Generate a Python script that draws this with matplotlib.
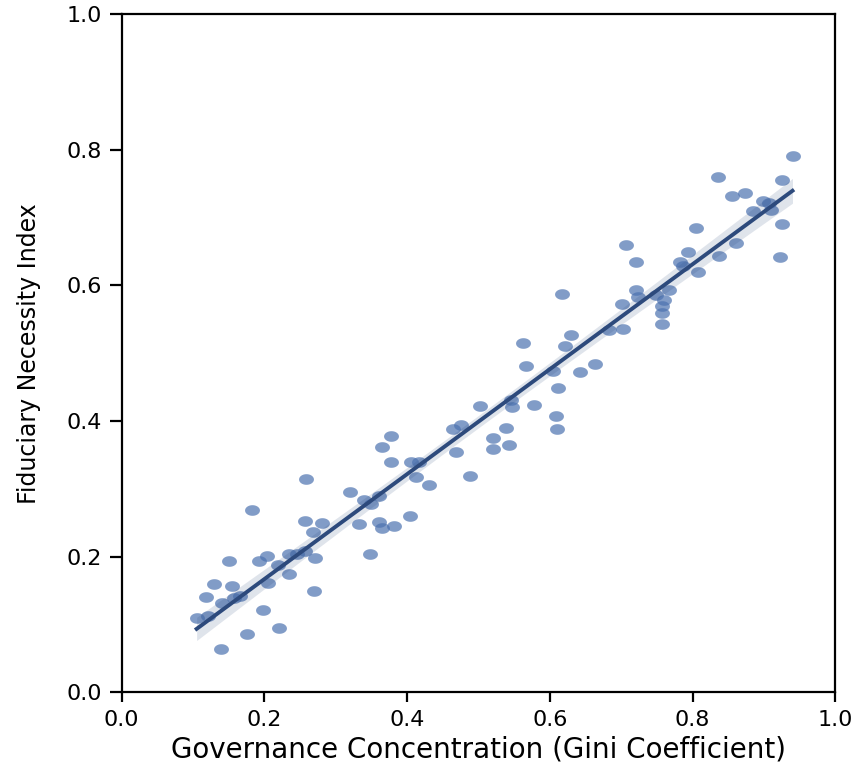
import numpy as np
import matplotlib
matplotlib.use("Agg")
import matplotlib.pyplot as plt
from matplotlib.path import Path

# ---- data ----
gini = [0.105, 0.121, 0.118, 0.130, 0.140, 0.139, 0.150, 0.155, 0.157, 0.166,
        0.183, 0.176, 0.192, 0.203, 0.198, 0.205, 0.219, 0.221, 0.234, 0.234,
        0.246, 0.257, 0.258, 0.257, 0.268, 0.281, 0.271, 0.270, 0.320, 0.332,
        0.340, 0.350, 0.360, 0.360, 0.365, 0.382, 0.404, 0.348, 0.365, 0.377,
        0.377, 0.405, 0.417, 0.412, 0.431, 0.464, 0.475, 0.468, 0.488, 0.502,
        0.520, 0.521, 0.538, 0.543, 0.546, 0.547, 0.562, 0.566, 0.578, 0.609,
        0.610, 0.611, 0.605, 0.617, 0.621, 0.630, 0.642, 0.663, 0.683, 0.701,
        0.703, 0.720, 0.723, 0.707, 0.721, 0.749, 0.757, 0.757, 0.760, 0.757,
        0.767, 0.782, 0.787, 0.794, 0.805, 0.808, 0.835, 0.837, 0.855, 0.861,
        0.874, 0.884, 0.898, 0.907, 0.910, 0.925, 0.925, 0.922, 0.940]
fiduciary = [0.109, 0.112, 0.140, 0.160, 0.131, 0.064, 0.193, 0.156, 0.139, 0.142,
             0.269, 0.086, 0.194, 0.201, 0.122, 0.161, 0.188, 0.095, 0.204, 0.174,
             0.204, 0.209, 0.315, 0.253, 0.236, 0.250, 0.198, 0.149, 0.295, 0.248,
             0.283, 0.278, 0.289, 0.251, 0.242, 0.245, 0.260, 0.204, 0.362, 0.378,
             0.340, 0.339, 0.339, 0.317, 0.305, 0.388, 0.394, 0.354, 0.319, 0.422,
             0.375, 0.358, 0.389, 0.364, 0.431, 0.420, 0.515, 0.481, 0.424, 0.408,
             0.388, 0.449, 0.474, 0.587, 0.511, 0.527, 0.472, 0.484, 0.534, 0.573,
             0.536, 0.593, 0.583, 0.659, 0.634, 0.585, 0.570, 0.559, 0.578, 0.543,
             0.593, 0.635, 0.629, 0.649, 0.684, 0.619, 0.760, 0.643, 0.731, 0.663,
             0.736, 0.710, 0.724, 0.722, 0.711, 0.755, 0.690, 0.641, 0.790]
xticks = [0.0, 0.2, 0.4, 0.6, 0.8, 1.0]
yticks = [0.0, 0.2, 0.4, 0.6, 0.8, 1.0]
xlabel = "Governance Concentration (Gini Coefficient)"
ylabel = "Fiduciary Necessity Index"

x = np.asarray(gini)
y = np.asarray(fiduciary)

# ---- linear fit with analytic 95% confidence band ----
slope, intercept = np.polyfit(x, y, 1)
n = len(x)
xg = np.linspace(x.min(), x.max(), 200)
yg = intercept + slope * xg
resid = y - (intercept + slope * x)
s = np.sqrt(np.sum(resid ** 2) / (n - 2))
sxx = np.sum((x - x.mean()) ** 2)
se = s * np.sqrt(1.0 / n + (xg - x.mean()) ** 2 / sxx)
band = 1.985 * se

# ---- figure ----
fig = plt.figure(figsize=(8.57, 7.67), dpi=100)
ax = fig.add_axes([0.1420, 0.0974, 0.8327, 0.8844])

# elliptical marker (wider than tall) like the reference
t = np.linspace(0, 2 * np.pi, 60)
ell = Path(np.column_stack([1.4 * np.cos(t), np.sin(t)]), closed=True)

point_color = "#4C72B0"
line_color = "#2D4A7C"

ax.scatter(x, y, s=115, marker=ell, color=point_color, alpha=0.7,
           linewidths=0, zorder=2)
ax.fill_between(xg, yg - band, yg + band, color=line_color, alpha=0.15,
                linewidth=0, zorder=3)
ax.plot(xg, yg, color=line_color, linewidth=2.8, zorder=4)

ax.set_xlim(0, 1)
ax.set_ylim(0, 1)
ax.set_xticks(xticks)
ax.set_yticks(yticks)
ax.set_xticklabels([f"{v:.1f}" for v in xticks])
ax.set_yticklabels([f"{v:.1f}" for v in yticks])

for sp in ax.spines.values():
    sp.set_linewidth(1.6)
    sp.set_color("black")

ax.tick_params(axis="x", direction="out", length=7, width=1.6, pad=6,
               labelsize=16)
ax.tick_params(axis="y", direction="out", length=8.5, width=1.6, pad=6,
               labelsize=16)

ax.set_xlabel(xlabel, fontsize=20, labelpad=4)
ax.set_ylabel(ylabel, fontsize=17, labelpad=18)

fig.savefig("out.png", dpi=100)
